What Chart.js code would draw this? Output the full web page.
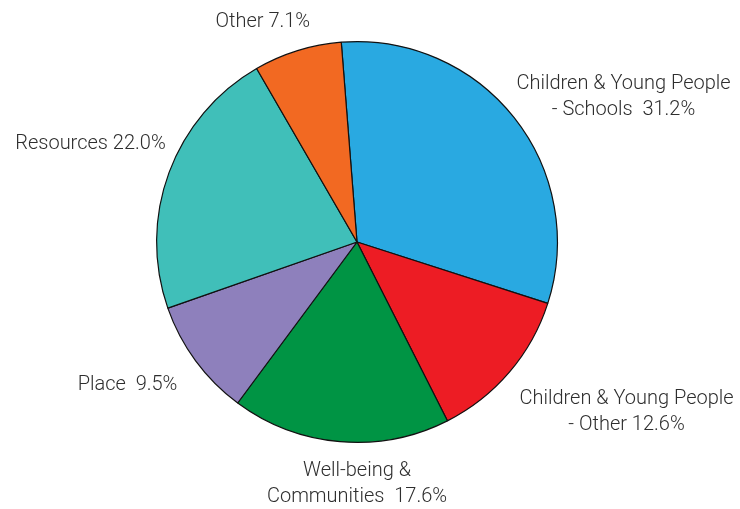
<!DOCTYPE html>
<html>
<head>
<meta charset="utf-8">
<script src="https://cdn.jsdelivr.net/npm/chart.js@4"></script>
<style>
  html,body{margin:0;padding:0;background:#fff;}
  #wrap{width:740px;height:509px;position:relative;}
</style>
</head>
<body>
<div id="wrap"><canvas id="pie"></canvas></div>
<script>
// data (clockwise from top)
const categories = [
  ['Children & Young People', '- Schools  31.2%'],
  ['Children & Young People', '- Other 12.6%'],
  ['Well-being &', 'Communities  17.6%'],
  ['Place  9.5%'],
  ['Resources 22.0%'],
  ['Other 7.1%']
];
const shares = [31.2, 12.6, 17.6, 9.5, 22.0, 7.1];
const colours = ['#29a9e1', '#ed1c24', '#009444', '#8e80bc', '#40bfb9', '#f26922'];

// label block centres, relative to pie centre in units of radius
const labelOffsets = [
  [1.33, -0.725], [1.345, 0.85], [0, 1.21], [-1.145, 0.715], [-1.33, -0.49], [-0.47, -1.10]
];

const outsideLabels = {
  id: 'outsideLabels',
  afterDraw(chart){
    const ctx = chart.ctx;
    const arc = chart.getDatasetMeta(0).data[0];
    const cx = arc.x, cy = arc.y, r = arc.outerRadius;
    ctx.save();
    ctx.font = '300 20px Roboto, "Open Sans", sans-serif';
    ctx.fillStyle = '#2e2e2e';
    ctx.textAlign = 'center';
    ctx.textBaseline = 'middle';
    const lh = 26;
    categories.forEach((lines, i) => {
      const [ox, oy] = labelOffsets[i];
      const x = cx + ox * r;
      const y0 = cy + oy * r - (lines.length - 1) * lh / 2;
      lines.forEach((t, j) => ctx.fillText(t, x, y0 + j * lh));
    });
    ctx.restore();
  }
};

new Chart(document.getElementById('pie'), {
  type: 'pie',
  data: {
    labels: categories.map(l => l.join(' ')),
    datasets: [{
      data: shares,
      backgroundColor: colours,
      borderColor: '#111',
      borderWidth: 1.2
    }]
  },
  options: {
    responsive: true,
    maintainAspectRatio: false,
    animation: false,
    rotation: -4.5,
    layout: { padding: { top: 41, bottom: 66, left: 156, right: 182 } },
    plugins: { legend: { display: false }, tooltip: { enabled: false } }
  },
  plugins: [outsideLabels]
});
</script>
</body>
</html>
